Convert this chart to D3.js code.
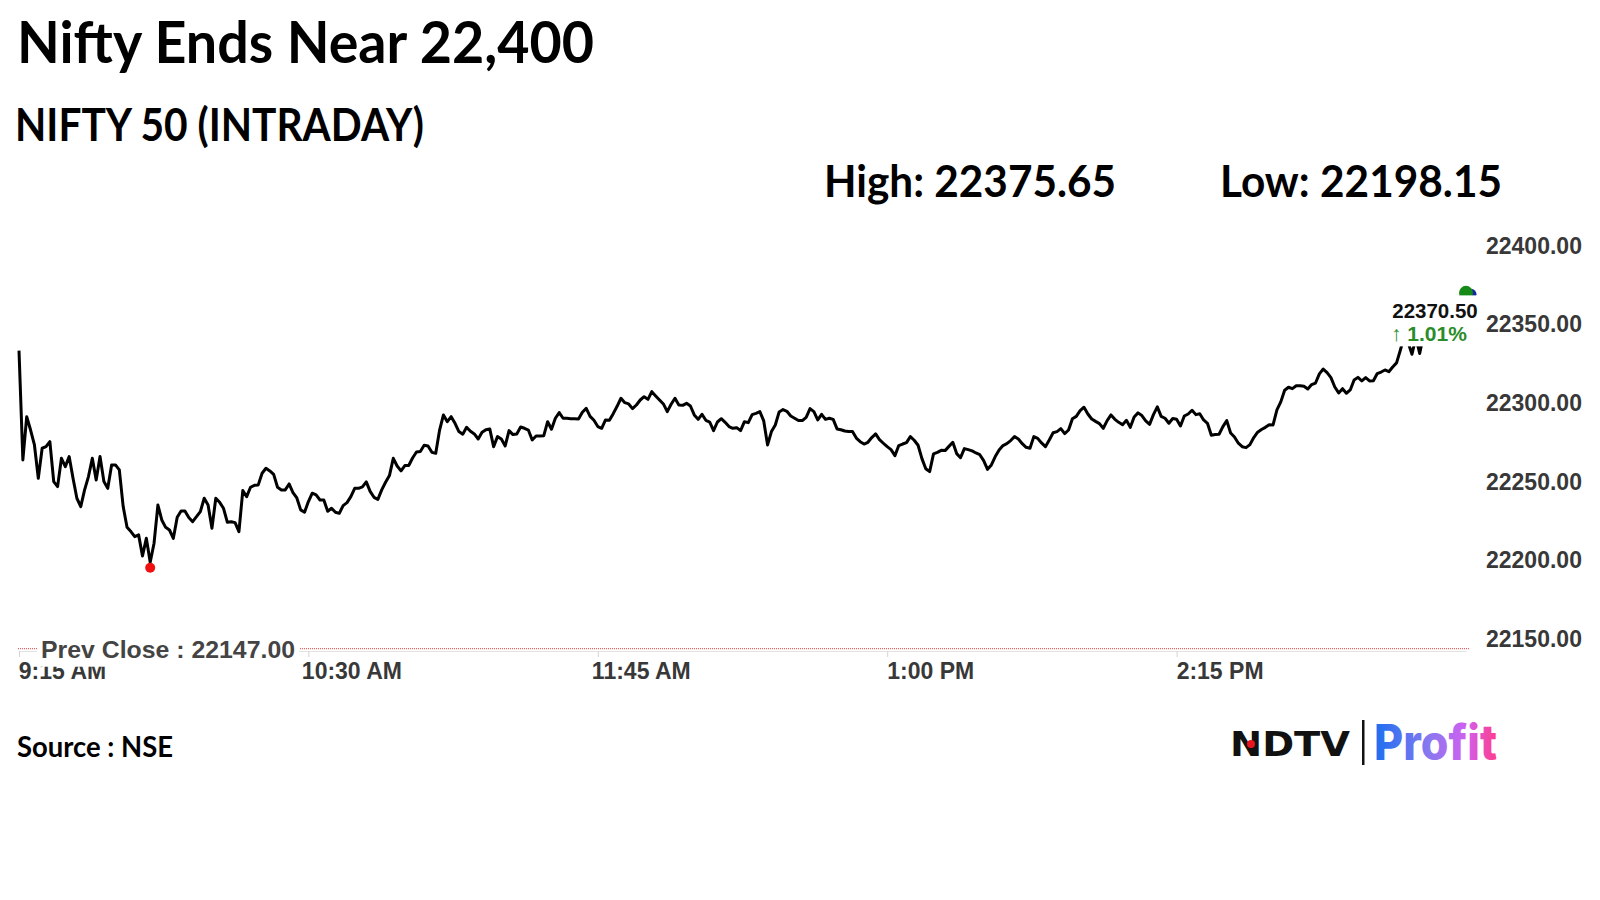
<!DOCTYPE html>
<html>
<head>
<meta charset="utf-8">
<script src="https://cdn.jsdelivr.net/npm/d3@7"></script>
<style>
  body { margin: 0; background: #fff; }
  text { font-kerning: normal; }
</style>
</head>
<body>
<svg id="chart" width="1600" height="900"></svg>
<script>
// ---------------- DATA ----------------
const titleText = "Nifty Ends Near 22,400";
const subtitleText = "NIFTY 50 (INTRADAY)";
const sourceText = "Source : NSE";
const sessionStart = "09:15";
const sessionEnd = "15:30";
const dayHigh = 22375.65;
const dayLow = 22198.15;
const prevClose = 22147.00;
const lastPrice = 22370.50;
const changePct = 1.01;

// one value per minute from 09:15
const niftyValues = [
  22332.8, 22263.3, 22290.8, 22282.3, 22272.8, 22251.6, 22270.7, 22271.7, 22274.9, 22249.5,
  22246.3, 22264.3, 22259.0, 22265.4, 22251.6, 22238.9, 22233.6, 22244.2, 22252.7, 22264.3,
  22250.5, 22265.4, 22249.5, 22245.2, 22260.1, 22260.1, 22256.9, 22233.6, 22220.4, 22217.7,
  22214.5, 22215.6, 22202.2, 22213.4, 22198.15, 22210.3, 22234.6, 22225.1, 22220.4, 22218.7,
  22213.4, 22226.8, 22230.8, 22230.8, 22226.6, 22224.0, 22227.2, 22230.4, 22238.9, 22234.6,
  22219.8, 22238.9, 22236.3, 22232.5, 22223.6, 22224.0, 22223.4, 22217.7, 22243.8, 22239.9,
  22245.9, 22247.1, 22247.4, 22254.8, 22258.0, 22256.3, 22254.1, 22245.9, 22244.2, 22244.2,
  22248.0, 22242.5, 22239.1, 22231.5, 22230.0, 22236.8, 22242.1, 22241.0, 22237.8, 22237.8,
  22230.6, 22232.5, 22230.0, 22229.3, 22234.2, 22236.1, 22239.9, 22245.2, 22245.2, 22246.1,
  22249.3, 22243.3, 22239.5, 22238.2,
  22244.2, 22249.1, 22253.3, 22264.3, 22259.4, 22256.3, 22259.7, 22259.7, 22264.5, 22268.3,
  22268.6, 22272.6, 22272.2, 22268.1, 22267.5, 22282.3, 22291.9, 22287.6, 22290.8, 22286.6,
  22281.3, 22279.6, 22284.0, 22281.5, 22279.8, 22276.6, 22280.9, 22282.5, 22283.0, 22271.7,
  22278.1, 22276.6, 22272.2, 22281.9, 22279.4, 22279.8, 22284.2, 22283.4, 22282.3, 22276.0,
  22278.5, 22278.5, 22278.7, 22287.6, 22282.8, 22289.8, 22293.4, 22289.8, 22289.8, 22289.5,
  22289.5, 22289.3, 22293.6, 22296.1, 22291.0, 22288.5, 22284.5, 22283.4, 22288.7, 22288.5,
  22292.7, 22297.4, 22302.5, 22299.7, 22298.9, 22295.9, 22298.2, 22301.4, 22303.5, 22301.8,
  22306.7, 22304.0, 22301.4, 22298.9, 22294.0, 22298.7, 22302.5, 22298.2, 22298.0, 22299.3,
  22297.6, 22291.9, 22289.1, 22292.3, 22288.5, 22287.4, 22281.9, 22287.4, 22289.5, 22287.2,
  22284.5, 22283.4, 22283.8, 22281.9, 22287.6,
  22287.0, 22292.1, 22292.9, 22294.0, 22288.1, 22272.8, 22281.3, 22285.5, 22293.8, 22295.3,
  22294.2, 22291.2, 22289.8, 22288.3, 22288.3, 22290.4, 22295.9, 22294.0, 22288.7, 22292.3,
  22289.1, 22289.8, 22289.1, 22283.0, 22282.5, 22281.7, 22281.3, 22281.3, 22277.2, 22274.9,
  22273.4, 22274.5, 22277.5, 22279.8, 22276.2, 22273.9, 22271.7, 22269.8, 22266.0, 22272.4,
  22273.4, 22274.3, 22278.1, 22275.8, 22272.6, 22264.1, 22257.7, 22255.8, 22267.1, 22268.1,
  22269.4, 22269.2, 22271.9, 22274.5, 22267.3, 22264.7, 22270.5, 22269.8, 22269.0, 22267.7,
  22266.6, 22262.8, 22257.3, 22260.1, 22265.4, 22269.6, 22272.4, 22273.6, 22275.6, 22278.1,
  22276.6, 22273.6, 22271.3, 22270.7, 22278.1, 22277.0, 22274.1, 22271.7, 22276.0, 22280.6,
  22281.3, 22283.2, 22280.0, 22282.3, 22289.5, 22291.0, 22294.6, 22296.8, 22292.5, 22289.3,
  22287.8, 22286.4, 22283.4, 22288.3,
  22291.9, 22289.1, 22287.2, 22285.7, 22288.5, 22284.0, 22290.6, 22293.2, 22291.5, 22288.1,
  22285.9, 22292.1, 22297.0, 22291.0, 22289.8, 22286.6, 22289.6, 22289.1, 22284.9, 22291.2,
  22292.5, 22294.9, 22292.1, 22292.7, 22288.7, 22286.6, 22279.0, 22279.4, 22279.6, 22284.5,
  22288.3, 22280.4, 22277.9, 22273.9, 22271.7, 22271.1, 22273.0, 22277.5, 22280.9, 22282.6,
  22284.0, 22285.7, 22285.5, 22295.1, 22300.2, 22307.6, 22309.5, 22308.6, 22310.5, 22310.5,
  22310.1, 22308.4, 22311.2, 22312.2, 22318.0, 22321.1, 22318.8, 22315.6, 22309.7, 22305.9,
  22308.6, 22305.7, 22307.8, 22314.1, 22315.8, 22313.5, 22315.6, 22313.5, 22313.7, 22318.2,
  22319.2, 22320.5, 22319.4, 22322.4, 22325.0, 22333.2,
  22342.0, 22338.0, 22330.5, 22341.0, 22331.0, 22343.0, 22348.0, 22351.0, 22355.0, 22353.0,
  22358.0, 22361.0, 22359.0, 22363.0, 22366.0, 22368.0, 22370.5
];

const xTickTimes = ["09:15", "10:30", "11:45", "13:00", "14:15"];
const xTickLabels = ["9:15 AM", "10:30 AM", "11:45 AM", "1:00 PM", "2:15 PM"];
const yTickValues = [22150, 22200, 22250, 22300, 22350, 22400];

// ---------------- CHART ----------------
const parseTime = d3.timeParse("%H:%M");
const t0 = parseTime(sessionStart);
const series = niftyValues.map((v, i) => ({ t: d3.timeMinute.offset(t0, i), v }));

const svg = d3.select("#chart");
svg.append("rect").attr("width", 1600).attr("height", 900).attr("fill", "#fff");

const x = d3.scaleTime().domain([t0, parseTime(sessionEnd)]).range([19, 1466]);
const y = d3.scaleLinear().domain([22150, 22400]).range([638, 245]);

const axisFont = "'Liberation Sans', Arial, sans-serif";
const titleFont = "Lato, 'Open Sans', sans-serif";

function fitted(sel, w) {
  return sel.attr("textLength", w).attr("lengthAdjust", "spacingAndGlyphs");
}

// Titles
fitted(svg.append("text").attr("x", 17).attr("y", 63)
  .style("font-family", titleFont).style("font-weight", 700).style("font-size", "57px")
  .attr("fill", "#000").text(titleText), 577);
fitted(svg.append("text").attr("x", 15).attr("y", 141)
  .style("font-family", titleFont).style("font-weight", 700).style("font-size", "45.5px")
  .attr("fill", "#000").text(subtitleText), 409);
fitted(svg.append("text").attr("x", 824).attr("y", 197)
  .style("font-family", titleFont).style("font-weight", 700).style("font-size", "44.5px")
  .attr("fill", "#000").text("High: " + d3.format(".2f")(dayHigh)), 292);
fitted(svg.append("text").attr("x", 1220).attr("y", 197)
  .style("font-family", titleFont).style("font-weight", 700).style("font-size", "44.5px")
  .attr("fill", "#000").text("Low: " + d3.format(".2f")(dayLow)), 282);

// Y axis (right)
const yAxis = svg.append("g").attr("transform", "translate(1486,0)")
  .call(d3.axisRight(y).tickValues(yTickValues).tickFormat(d3.format(".2f")).tickSize(0).tickPadding(0));
yAxis.select(".domain").remove();
yAxis.selectAll("text")
  .style("font-family", axisFont).style("font-weight", 700).style("font-size", "23px")
  .attr("fill", "#383838").attr("dy", "0.36em");

// X axis
const xAxis = svg.append("g").attr("transform", "translate(0,651)")
  .call(d3.axisBottom(x).tickValues(xTickTimes.map(parseTime))
    .tickFormat((d, i) => xTickLabels[i]).tickSize(6).tickSizeOuter(0).tickPadding(6));
xAxis.select(".domain").attr("stroke", "#e2e2e2");
xAxis.selectAll(".tick line").attr("stroke", "#d4d4d4");
xAxis.selectAll("text")
  .style("font-family", axisFont).style("font-weight", 700).style("font-size", "23px")
  .attr("fill", "#383838").attr("dx", 43);

// Previous close line + label
const pcY = y(prevClose) + 6;
svg.append("line").attr("x1", 18).attr("x2", 1469).attr("y1", pcY).attr("y2", pcY)
  .attr("stroke", "#e23a3a").attr("stroke-width", 1).attr("stroke-dasharray", "1,1");
svg.append("rect").attr("x", 37).attr("y", pcY - 13).attr("width", 262).attr("height", 31).attr("fill", "#fff");
fitted(svg.append("text").attr("x", 41).attr("y", pcY + 9)
  .style("font-family", axisFont).style("font-weight", 700).style("font-size", "24px")
  .attr("fill", "#444").text("Prev Close : " + d3.format(".2f")(prevClose)), 254);

// Price line
const line = d3.line().x(d => x(d.t)).y(d => y(d.v));
svg.append("path").datum(series).attr("d", line)
  .attr("fill", "none").attr("stroke", "#000").attr("stroke-width", 3)
  .attr("stroke-linejoin", "round");

// Day low marker
const lowPt = series.reduce((a, b) => (b.v < a.v ? b : a));
svg.append("circle").attr("cx", x(lowPt.t)).attr("cy", y(lowPt.v) + 5.5).attr("r", 5)
  .attr("fill", "#f01010");

// Last price marker + label
const last = series[series.length - 1];
const lx = x(last.t), ly = y(last.v);
svg.append("circle").attr("cx", lx + 5).attr("cy", ly + 3).attr("r", 5.5).attr("fill", "#1428a0");
svg.append("circle").attr("cx", lx).attr("cy", ly + 1.5).attr("r", 7).attr("fill", "#168a16");
svg.append("rect").attr("x", lx - 78).attr("y", ly + 4).attr("width", 92).attr("height", 51).attr("fill", "#fff");
svg.append("text").attr("x", lx - 31).attr("y", ly + 27).attr("text-anchor", "middle")
  .style("font-family", axisFont).style("font-weight", 700).style("font-size", "20.5px").attr("fill", "#111")
  .text(d3.format(".2f")(lastPrice));
svg.append("text").attr("x", lx - 75).attr("y", ly + 50)
  .style("font-family", axisFont).style("font-weight", 700).style("font-size", "21px")
  .attr("fill", "#2a8c2a").text("\u2191 " + d3.format(".2f")(changePct) + "%");

// Source
fitted(svg.append("text").attr("x", 17).attr("y", 757)
  .style("font-family", titleFont).style("font-weight", 700).style("font-size", "28.5px")
  .attr("fill", "#000").text(sourceText), 156);

// Logo
const defs = svg.append("defs");
const grad = defs.append("linearGradient").attr("id", "profitGrad")
  .attr("x1", "0%").attr("x2", "100%").attr("y1", "0%").attr("y2", "0%");
grad.append("stop").attr("offset", "0%").attr("stop-color", "#1a6ff0");
grad.append("stop").attr("offset", "45%").attr("stop-color", "#8a78f0");
grad.append("stop").attr("offset", "75%").attr("stop-color", "#d060f0");
grad.append("stop").attr("offset", "100%").attr("stop-color", "#ff3d8a");

fitted(svg.append("text").attr("x", 1230).attr("y", 756)
  .style("font-family", "'DejaVu Sans', sans-serif").style("font-weight", 700).style("font-size", "34px")
  .attr("fill", "#111").text("NDTV"), 120);
svg.append("circle").attr("cx", 1251).attr("cy", 744).attr("r", 4).attr("fill", "#e8141e");
svg.append("rect").attr("x", 1362).attr("y", 720).attr("width", 2.5).attr("height", 45).attr("fill", "#111");
fitted(svg.append("text").attr("x", 1374).attr("y", 760)
  .style("font-family", "Inter, sans-serif").style("font-weight", 800).style("font-size", "49px")
  .attr("fill", "url(#profitGrad)").text("Profit"), 123);
</script>
</body>
</html>
